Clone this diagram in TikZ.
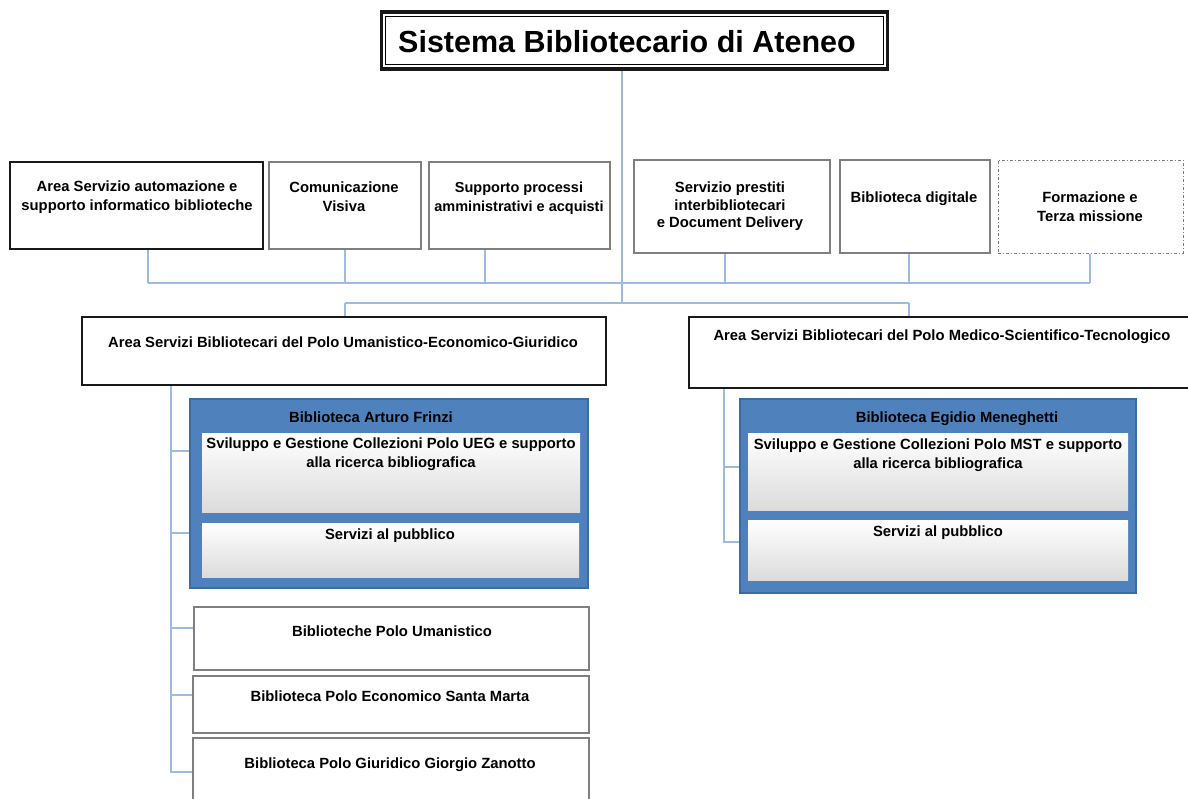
\documentclass[tikz,border=0pt]{standalone}
\usepackage{fontspec}
\setmainfont{Liberation Sans}
\definecolor{conn}{HTML}{9DBAE0}
\definecolor{boxgray}{HTML}{7F7F7F}
\definecolor{poloblue}{HTML}{4F81BD}
\definecolor{polodark}{HTML}{3B6BA5}
\begin{document}
\begin{tikzpicture}[x=1pt,y=-1pt]
			\tikzstyle{box}=[rectangle,draw=boxgray,line width=1.4pt,inner sep=0pt]
			\tikzstyle{area}=[rectangle,draw=black!90,line width=2.6pt,inner sep=0pt]
			\tikzstyle{polo}=[rectangle,draw=polodark,fill=poloblue,line width=1.5pt,inner sep=0pt]
			\tikzstyle{sub}=[rectangle,top color=white,middle color=white,bottom color=black!14,inner sep=0pt]
			\tikzstyle{txt}=[anchor=north,align=center,inner sep=0pt,font=\fontsize{14.8}{18.5}\selectfont\bfseries]
			\tikzstyle{link}=[draw=conn,line width=1.1pt]
			\useasboundingbox (0,0) rectangle (1188,798);
			
			\begin{scope}
			% vertice
			\node[area,line width=3.2pt,minimum width=506pt,minimum height=57pt] (sba) at (634.5,40.5) {};
			\draw[line width=1.1pt] ([xshift=6pt,yshift=-6pt]sba.north west) rectangle ([xshift=-6pt,yshift=6pt]sba.south east);
			\node[inner sep=0pt,font=\fontsize{30.5}{36}\selectfont\bfseries] (sba-t) at (627,42) {Sistema Bibliotecario di Ateneo};
			
			% servizi centrali
			\node[area,minimum width=253pt,minimum height=87pt] (auto) at (136.5,205.5) {};
			\node[box,minimum width=152pt,minimum height=87pt] (comv) at (345,205.5) {};
			\node[box,minimum width=181pt,minimum height=87pt] (amm) at (519.5,205.5) {};
			\node[box,minimum width=196pt,minimum height=93pt] (ill) at (732,206.5) {};
			\node[box,minimum width=150pt,minimum height=93pt] (digit) at (915,206.5) {};
			\node[box,line width=1pt,dash pattern=on 3pt off 2pt on 1pt off 2pt,minimum width=185pt,minimum height=93pt] (terza) at (1090.5,206.5) {};
			
			\node[txt] (auto-t) at (137,181) {Area Servizio automazione e\\supporto informatico biblioteche};
			\node[txt] (comv-t) at (344,182) {Comunicazione\\Visiva};
			\node[txt,font=\fontsize{14.5}{18.5}\selectfont\bfseries] (amm-t) at (519,182) {Supporto processi\\amministrativi e acquisti};
			\node[txt,font=\fontsize{14.8}{17.5}\selectfont\bfseries] (ill-t) at (730,182) {Servizio prestiti\\interbibliotecari\\e Document Delivery};
			\node[txt] (digit-t) at (914,192) {Biblioteca digitale};
			\node[txt] (terza-t) at (1090,192) {Formazione e\\Terza missione};
			
			% aree dei poli
			\node[area,minimum width=524pt,minimum height=68pt] (ueg) at (344,351) {};
			\node[area,minimum width=506pt,minimum height=71pt] (mst) at (942,352.5) {};
			\node[txt] (ueg-t) at (343,337) {Area Servizi Bibliotecari del Polo Umanistico-Economico-Giuridico};
			\node[txt] (mst-t) at (942,330) {Area Servizi Bibliotecari del Polo Medico-Scientifico-Tecnologico};
			
			% polo UEG
			\node[polo,minimum width=398pt,minimum height=189pt] (frinzi) at (389,493.5) {};
			\node[sub,minimum width=378pt,minimum height=79pt] (frinzi-a) at (391,472.5) {};
			\node[sub,minimum width=377pt,minimum height=54pt] (frinzi-b) at (390.5,550) {};
			\node[txt] (frinzi-t) at (371,411.5) {Biblioteca Arturo Frinzi};
			\node[txt] (frinzi-at) at (391,438) {Sviluppo e Gestione Collezioni Polo UEG e supporto\\alla ricerca bibliografica};
			\node[txt] (frinzi-bt) at (390,529) {Servizi al pubblico};
			
			\node[box,minimum width=395pt,minimum height=63pt] (umanist) at (391.5,638.5) {};
			\node[box,minimum width=396pt,minimum height=57pt] (santam) at (391,704.5) {};
			\node[box,minimum width=396pt,minimum height=72pt] (zanotto) at (391,774) {};
			\node[txt] (umanist-t) at (392,626) {Biblioteche Polo Umanistico};
			\node[txt] (santam-t) at (390,691) {Biblioteca Polo Economico Santa Marta};
			\node[txt] (zanotto-t) at (390,758) {Biblioteca Polo Giuridico Giorgio Zanotto};
			
			% polo MST
			\node[polo,minimum width=396pt,minimum height=194pt] (meneg) at (938,496) {};
			\node[sub,minimum width=380pt,minimum height=77pt] (meneg-a) at (938,471.5) {};
			\node[sub,minimum width=380pt,minimum height=60pt] (meneg-b) at (938,550) {};
			\node[txt] (meneg-t) at (957,411.5) {Biblioteca Egidio Meneghetti};
			\node[txt] (meneg-at) at (938,439) {Sviluppo e Gestione Collezioni Polo MST e supporto\\alla ricerca bibliografica};
			\node[txt] (meneg-bt) at (938,526) {Servizi al pubblico};
			\end{scope}
			
			% punti di raccordo
			\coordinate (j1) at (148,283);
			\coordinate (j2) at (345,283);
			\coordinate (j3) at (485,283);
			\coordinate (j4) at (725,283);
			\coordinate (j5) at (909,283);
			\coordinate (j6) at (1090,283);
			\coordinate (c2) at (622,303);
			\coordinate (k1) at (345,303);
			\coordinate (k2) at (909,303);
			\coordinate (u1) at (171,451);
			\coordinate (u2) at (171,533);
			\coordinate (u3) at (171,628);
			\coordinate (u4) at (171,695);
			\coordinate (u5) at (171,772);
			\coordinate (m1) at (724,467);
			\coordinate (m2) at (724,542);
			
			\path[link]
			(c2 |- sba.south) edge (c2)
			(j1) edge (j6)
			(j1) edge (j1 |- auto.south)
			(j2) edge (j2 |- comv.south)
			(j3) edge (j3 |- amm.south)
			(j4) edge (j4 |- ill.south)
			(j5) edge (j5 |- digit.south)
			(j6) edge (j6 |- terza.south)
			(k1) edge (k2)
			(k1) edge (k1 |- ueg.north)
			(k2) edge (k2 |- mst.north)
			
			(u1) edge (u1 -| frinzi.west)
			(u2) edge (u2 -| frinzi.west)
			(u3) edge (u3 -| umanist.west)
			(u4) edge (u4 -| santam.west)
			(m1) edge (m1 -| meneg.west)
			;
			\draw[link] (u5 |- ueg.south) -- (u5) -- (u5 -| zanotto.west);
			\draw[link] (m2 |- mst.south) -- (m2) -- (m2 -| meneg.west);
\end{tikzpicture}
\end{document}
